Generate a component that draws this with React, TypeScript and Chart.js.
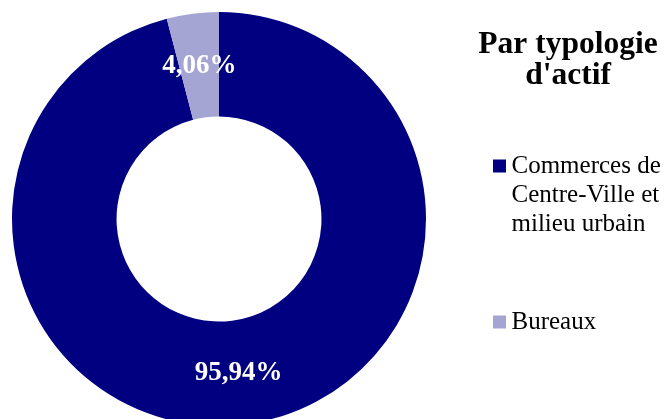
import React, { useEffect, useRef } from "react";
import { Chart, registerables } from "chart.js";

Chart.register(...registerables);

const categories: string[][] = [
  ["Commerces de", "Centre-Ville et", "milieu urbain"],
  ["Bureaux"],
];
const values: number[] = [95.94, 4.06];
const colors: string[] = ["#000080", "#A5A5D3"];
const titleLines: string[] = ["Par typologie", "d'actif"];

const SERIF = '"Liberation Serif", "Times New Roman", serif';

const overlayPlugin = {
  id: "overlay",
  afterDatasetsDraw(chart: any) {
    const ctx: CanvasRenderingContext2D = chart.ctx;
    const meta = chart.getDatasetMeta(0);
    ctx.save();
    // data labels
    ctx.fillStyle = "#ffffff";
    ctx.font = `bold 27px ${SERIF}`;
    ctx.textAlign = "center";
    ctx.textBaseline = "middle";
    meta.data.forEach((arc: any, i: number) => {
      const p = arc.getCenterPoint();
      const txt = values[i].toFixed(2).replace(".", ",") + "%";
      ctx.fillText(txt, p.x, p.y + 1);
    });
    // title
    ctx.fillStyle = "#000000";
    ctx.textBaseline = "alphabetic";
    ctx.font = `bold 31.5px ${SERIF}`;
    titleLines.forEach((line, i) => {
      ctx.fillText(line, 568, 53 + i * 31);
    });
    // legend
    ctx.textAlign = "left";
    ctx.font = `25px ${SERIF}`;
    const itemTops = [172.5, 328.5];
    categories.forEach((lines, i) => {
      const base = itemTops[i];
      ctx.fillStyle = colors[i];
      ctx.fillRect(493, base - 13, 13, 13);
      ctx.fillStyle = "#000000";
      lines.forEach((line, j) => {
        ctx.fillText(line, 511.5, base + j * 29);
      });
    });
    ctx.restore();
  },
};

export default function App() {
  const ref = useRef<HTMLCanvasElement | null>(null);
  useEffect(() => {
    if (!ref.current) return;
    const chart = new Chart(ref.current, {
      type: "doughnut",
      data: {
        labels: categories,
        datasets: [
          {
            data: values,
            backgroundColor: colors,
            borderWidth: 0,
          },
        ],
      },
      options: {
        responsive: false,
        animation: false,
        cutout: "49.5%",
        layout: { padding: { left: 12, top: 12, right: 239, bottom: 14 } },
        plugins: {
          legend: { display: false },
          title: { display: false },
          tooltip: { enabled: false },
        },
      },
      plugins: [overlayPlugin],
    });
    return () => chart.destroy();
  }, []);
  return (
    <div
      style={{
        position: "absolute",
        left: 0,
        top: 0,
        width: 665,
        height: 419,
        overflow: "hidden",
        background: "#ffffff",
      }}
    >
      <canvas ref={ref} width={665} height={440} style={{ display: "block", width: 665, height: 440 }} />
    </div>
  );
}
